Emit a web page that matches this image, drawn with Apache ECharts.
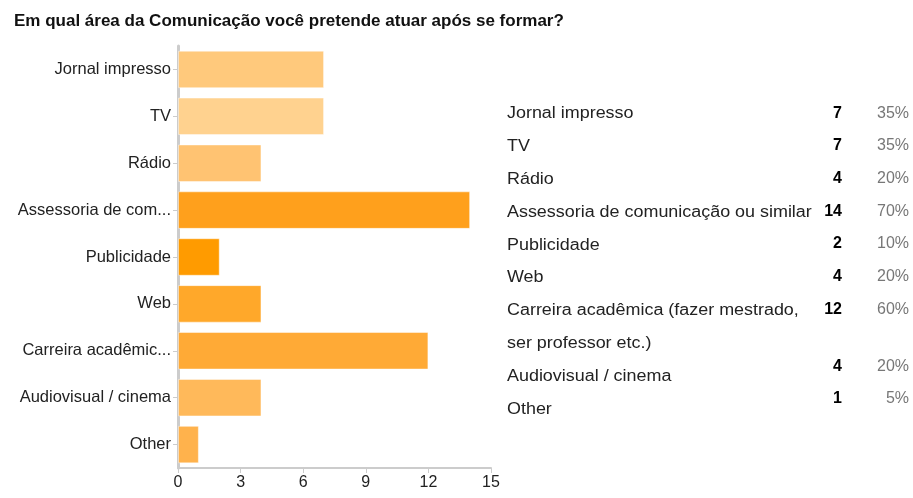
<!DOCTYPE html>
<html>
<head>
<meta charset="utf-8">
<script src="https://cdn.jsdelivr.net/npm/echarts@6/dist/echarts.min.js"></script>
<style>
  html, body { margin: 0; padding: 0; background: #fff; }
  #chart { width: 913px; height: 498px; }
</style>
</head>
<body>
<div id="chart"></div>
<script>
// dados da pesquisa
var categories = ['Jornal impresso', 'TV', 'Rádio', 'Assessoria de comunicação ou similar',
  'Publicidade', 'Web', 'Carreira acadêmica (fazer mestrado, ser professor etc.)',
  'Audiovisual / cinema', 'Other'];
var counts = [7, 7, 4, 14, 2, 4, 12, 4, 1];
var percents = ['35%', '35%', '20%', '70%', '10%', '20%', '60%', '20%', '5%'];
var barColors = ['#FFC97C', '#FFD28F', '#FFC372', '#FFA01C', '#FF9B00', '#FFA82A', '#FFAA36', '#FFB95A', '#FFB24C'];
var xTicks = [0, 3, 6, 9, 12, 15];
// linhas da tabela da direita (o item 7 quebra em duas linhas)
var tableLines = ['Jornal impresso', 'TV', 'Rádio', 'Assessoria de comunicação ou similar',
  'Publicidade', 'Web', 'Carreira acadêmica (fazer mestrado,', 'ser professor etc.)',
  'Audiovisual / cinema', 'Other'];

var FONT = '"Liberation Sans", Arial, sans-serif';
var myChart = echarts.init(document.getElementById('chart'));

var graphic = [];
tableLines.forEach(function (t, i) {
  graphic.push({
    type: 'text', x: 507, y: 114 + i * 32.8, scaleX: 1.12,
    style: { text: t, fill: '#222', font: '16px ' + FONT, align: 'left', verticalAlign: 'middle' }
  });
});
// y da linha de cada numero
var numY = [114, 146, 179, 212, 244, 277, 310, 367, 399];
counts.forEach(function (c, i) {
  graphic.push({
    type: 'text', x: 842, y: numY[i],
    style: { text: String(c), fill: '#000', font: 'bold 16px ' + FONT, align: 'right', verticalAlign: 'middle' }
  });
  graphic.push({
    type: 'text', x: 909, y: numY[i],
    style: { text: percents[i], fill: '#777', font: '16px ' + FONT, align: 'right', verticalAlign: 'middle' }
  });
});

myChart.setOption({
  backgroundColor: '#fff',
  animation: false,
  title: {
    text: 'Em qual área da Comunicação você pretende atuar após se formar?',
    left: 9, top: 8,
    textStyle: { fontSize: 17, fontWeight: 'bold', color: '#111', fontFamily: FONT }
  },
  grid: { left: 178, right: 422, top: 46, bottom: 30, containLabel: false },
  xAxis: {
    type: 'value', min: 0, max: 15, interval: 3,
    splitLine: { show: false },
    axisLine: { show: true, lineStyle: { color: '#ccc', width: 2 } },
    axisTick: { show: true, length: 5, lineStyle: { color: '#ccc' } },
    axisLabel: {
      color: '#222', fontSize: 16, margin: 7, fontFamily: FONT,
      formatter: function (v) { return xTicks.indexOf(v) >= 0 ? String(v) : ''; }
    }
  },
  yAxis: {
    type: 'category', data: categories, inverse: true,
    axisLine: { show: true, lineStyle: { color: '#ccc', width: 3 } },
    axisTick: { show: true, alignWithLabel: true, length: 5, lineStyle: { color: '#ccc' } },
    axisLabel: {
      color: '#222', fontSize: 16.5, margin: 7, fontFamily: FONT,
      formatter: function (v) { return v.length > 20 ? v.slice(0, 17) + '...' : v; }
    }
  },
  series: [{
    type: 'bar',
    barWidth: '80%',
    data: counts.map(function (c, i) {
      return { value: c, itemStyle: { color: barColors[i], borderColor: 'rgba(255,255,255,0.45)', borderWidth: 1 } };
    })
  }],
  graphic: graphic
});
</script>
</body>
</html>
